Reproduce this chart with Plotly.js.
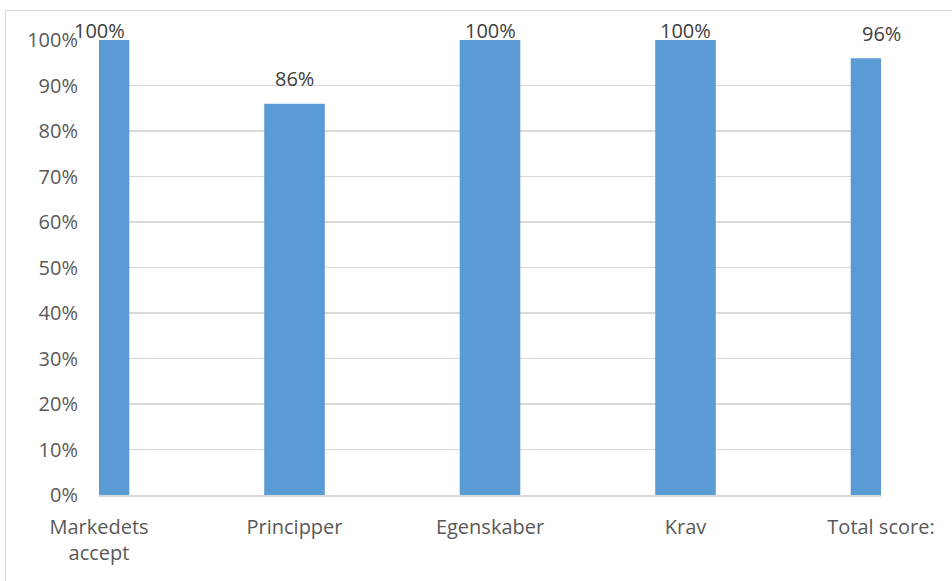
<!DOCTYPE html>
<html>
<head>
<meta charset="utf-8">
<script src="https://cdn.plot.ly/plotly-3.0.1.min.js"></script>
<style>
  html, body { margin: 0; padding: 0; background: #fff; overflow: hidden; }
  #wrap { position: relative; width: 952px; height: 581px; }
  #chart { position: absolute; left: 0; top: 0; width: 952px; height: 581px; }
  #frame { position: absolute; left: 5px; top: 10px; width: 1000px; height: 1000px;
           border: 1.5px solid #d9d9d9; box-sizing: border-box; pointer-events: none; }
</style>
</head>
<body>
<div id="wrap">
  <div id="chart"></div>
  <div id="frame"></div>
</div>
<script>
const categories = ["Markedets accept", "Principper", "Egenskaber", "Krav", "Total score:"];
const tickLabels = ["Markedets<br>accept", "Principper", "Egenskaber", "Krav", "Total score:"];
const values = [1.00, 0.86, 1.00, 1.00, 0.96];
const valueLabels = ["100%", "86%", "100%", "100%", "96%"];
const yTickVals = [0, 0.1, 0.2, 0.3, 0.4, 0.5, 0.6, 0.7, 0.8, 0.9, 1.0];
const yTickText = ["0%", "10%", "20%", "30%", "40%", "50%", "60%", "70%", "80%", "90%", "100%"];

const FONT = "'Open Sans', sans-serif";
const TXT = "#595959";

const trace = {
  type: "bar",
  x: categories,
  y: values,
  marker: { color: "#5b9bd5" },
  hoverinfo: "skip"
};

const annotations = categories.map((c, i) => ({
  x: c, y: values[i], xref: "x", yref: "y",
  text: valueLabels[i], showarrow: false,
  yanchor: "middle", yshift: values[i] >= 1 ? 10 : 25,
  font: { family: FONT, size: 20, color: "#404040" }
}));

const layout = {
  width: 952, height: 581,
  margin: { l: 99, r: 71, t: 40, b: 86, pad: 0 },
  paper_bgcolor: "rgba(0,0,0,0)",
  plot_bgcolor: "#fff",
  showlegend: false,
  bargap: 0.69,
  font: { family: FONT, size: 20, color: TXT },
  xaxis: {
    type: "category",
    range: [0, 4],
    tickvals: categories,
    ticktext: tickLabels,
    showgrid: false,
    showline: true, linecolor: "#d9d9d9", linewidth: 1.5,
    ticks: "", ticklabelstandoff: 13,
    tickfont: { family: FONT, size: 20, color: TXT },
    fixedrange: true
  },
  yaxis: {
    range: [0, 1],
    tickvals: yTickVals,
    ticktext: yTickText,
    showgrid: true, gridcolor: "#d9d9d9", gridwidth: 1.5,
    zeroline: false, showline: false,
    ticks: "", ticklabelstandoff: 20,
    tickfont: { family: FONT, size: 20, color: TXT },
    fixedrange: true
  },
  annotations: annotations
};

Plotly.newPlot("chart", [trace], layout, { displayModeBar: false, staticPlot: true });
</script>
</body>
</html>
